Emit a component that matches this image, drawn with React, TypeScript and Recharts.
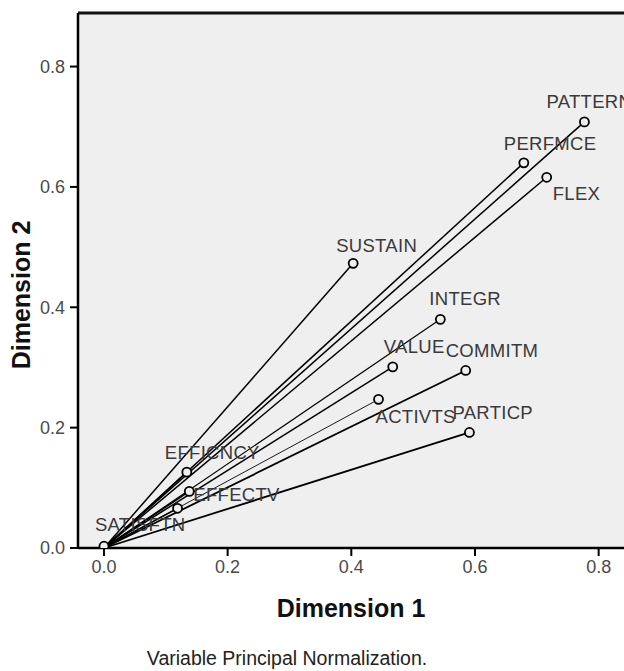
import React from "react";
import {CartesianGrid, ReferenceLine, Scatter, ScatterChart, XAxis, YAxis} from "recharts";

// variable loadings
const variables = ["PATTERN", "PERFMCE", "FLEX", "SUSTAIN", "INTEGR", "VALUE", "COMMITM", "ACTIVTS", "PARTICP", "EFFICNCY", "EFFECTV", "", "SATISFTN"]
const dimension1 = [0.777, 0.679, 0.716, 0.403, 0.544, 0.467, 0.585, 0.444, 0.591, 0.134, 0.138, 0.119, 0.000]
const dimension2 = [0.708, 0.640, 0.616, 0.473, 0.380, 0.301, 0.295, 0.247, 0.192, 0.126, 0.094, 0.066, 0.003]
const axisTicks = [0, 0.2, 0.4, 0.6, 0.8]

const FONT = '"Liberation Sans", Arial, sans-serif'
const X_DOMAIN: [number, number] = [-0.042, 0.841]
const Y_DOMAIN: [number, number] = [0, 0.889]

// label placement (text start / vertical centre relative to the marker)
const labelOffsets: Record<string, { dx: number, dy: number }> = {
  PATTERN: {dx: -38, dy: -20},
  PERFMCE: {dx: -20, dy: -19},
  FLEX: {dx: 6, dy: 16},
  SUSTAIN: {dx: -17, dy: -18},
  INTEGR: {dx: -11, dy: -21},
  VALUE: {dx: -9, dy: -20},
  COMMITM: {dx: -20, dy: -20},
  ACTIVTS: {dx: -3, dy: 17},
  PARTICP: {dx: -17, dy: -20},
  EFFICNCY: {dx: -22, dy: -20},
  EFFECTV: {dx: 4, dy: 3},
  SATISFTN: {dx: -9, dy: -22},
}

const lineWidths: Record<string, number> = {
  ACTIVTS: 0.9,
  INTEGR: 1.2,
  COMMITM: 1.8,
  PARTICP: 1.8,
}

interface VectorPoint {
  name: string,
  x: number,
  y: number
}

const points: Array<VectorPoint> = variables.map((name, i) => ({name, x: dimension1[i], y: dimension2[i]}))

function PointMarker(props: any) {
  const {cx, cy, payload} = props
  const off = labelOffsets[payload.name] ?? {dx: 0, dy: -20}
  return (
    <g>
      <circle cx={cx} cy={cy} r={4.5} fill="#efefef" stroke="#000" strokeWidth={1.8}/>
      {payload.name && (
        <text x={cx + off.dx} y={cy + off.dy} dominantBaseline="central" fontSize={18.5}
              fontFamily={FONT} fill="#3a3a3a" letterSpacing={0.3}>
          {payload.name}
        </text>
      )}
    </g>
  )
}

export default function App() {
  const tickStyle = {fontSize: 18, fontFamily: FONT, fill: '#4a4a4a'}

  return (
    <div style={{position: 'relative', width: 624, height: 671, background: '#fff'}}>
      <style>{'body{margin:0}'}</style>
      <ScatterChart width={624} height={671} margin={{top: 13, right: 0, bottom: 0, left: 0}}>
        <CartesianGrid horizontal={false} vertical={false} fill="#efefef"/>
        <XAxis
          type="number"
          dataKey="x"
          domain={X_DOMAIN}
          ticks={axisTicks}
          allowDataOverflow
          height={123}
          tick={tickStyle}
          tickFormatter={(v: number) => v.toFixed(1)}
          tickSize={8}
          tickMargin={4}
          axisLine={{stroke: '#000', strokeWidth: 2.5}}
          tickLine={{stroke: '#000', strokeWidth: 2}}
        />
        <YAxis
          type="number"
          dataKey="y"
          domain={Y_DOMAIN}
          ticks={axisTicks}
          allowDataOverflow
          width={78}
          tick={tickStyle}
          tickFormatter={(v: number) => v.toFixed(1)}
          tickSize={8}
          tickMargin={5}
          axisLine={{stroke: '#000', strokeWidth: 2.5}}
          tickLine={{stroke: '#000', strokeWidth: 2}}
        />
        <ReferenceLine y={Y_DOMAIN[1]} stroke="#111" strokeWidth={3} ifOverflow="visible"/>
        {points.map((p, i) => (
          <ReferenceLine
            key={i}
            segment={[{x: 0, y: 0}, {x: p.x, y: p.y}]}
            stroke="#000"
            strokeWidth={lineWidths[p.name] ?? 1.5}
            ifOverflow="visible"
          />
        ))}
        <Scatter data={points} shape={PointMarker} isAnimationActive={false}/>
      </ScatterChart>

      <div style={{
        position: 'absolute', left: 351, top: 608, transform: 'translate(-50%, -50%)',
        fontFamily: FONT, fontWeight: 'bold', fontSize: 25, whiteSpace: 'nowrap', color: '#111'
      }}>
        Dimension 1
      </div>
      <div style={{
        position: 'absolute', left: 21, top: 295, transform: 'translate(-50%, -50%) rotate(-90deg)',
        fontFamily: FONT, fontWeight: 'bold', fontSize: 25, whiteSpace: 'nowrap', color: '#111'
      }}>
        Dimension 2
      </div>
      <div style={{
        position: 'absolute', left: 287, top: 658, transform: 'translate(-50%, -50%)',
        fontFamily: FONT, fontSize: 19.5, whiteSpace: 'nowrap', color: '#222'
      }}>
        Variable Principal Normalization.
      </div>
    </div>
  )
}
